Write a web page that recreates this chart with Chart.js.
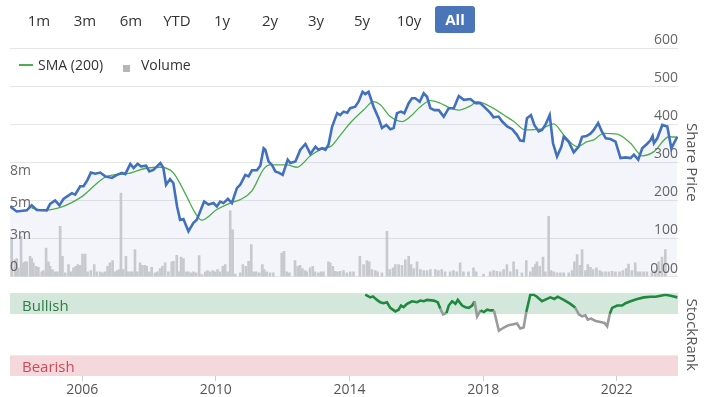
<!DOCTYPE html>
<html>
<head>
<meta charset="utf-8">
<script src="https://cdn.jsdelivr.net/npm/chart.js@4.4.0/dist/chart.umd.min.js"></script>
<style>
  body { margin: 0; width: 708px; height: 397px; overflow: hidden; background: #fff; position: relative; font-family: "Open Sans", sans-serif; }
  canvas { position: absolute; left: 0; }
  #priceChart { top: 0; }
  #rankChart { top: 285px; }
  .rng { position: absolute; top: 9px; width: 44px; margin-left: -22px; text-align: center; font-size: 15px; color: #333; line-height: 22px; z-index: 2; }
  .rng.on { top: 6px; height: 27px; line-height: 27px; width: 40px; margin-left: -20px; background: #4a75b8; color: #fff; font-weight: bold; border-radius: 3px; }
  .legend { position: absolute; top: 55px; left: 18px; font-size: 14px; color: #333; z-index: 2; line-height: 20px; }
  .legend .ln { position: absolute; left: 1px; top: 9px; width: 14px; height: 2px; background: #4cae4c; }
  .legend .sq { position: absolute; left: 105px; top: 10px; width: 7px; height: 7px; background: #b4b6bb; }
  .legend span.t { position: absolute; white-space: nowrap; }
  .band-label { position: absolute; left: 22px; font-size: 15px; z-index: 2; line-height: 20px; }
</style>
</head>
<body>
<div id="ranges"></div>
<div class="legend">
  <div class="ln"></div><span class="t" style="left:20px">SMA (200)</span>
  <div class="sq"></div><span class="t" style="left:123px">Volume</span>
</div>
<div class="band-label" style="top:295px;color:#2f7b49">Bullish</div>
<div class="band-label" style="top:356px;color:#d04a55">Bearish</div>
<canvas id="priceChart" width="708" height="285"></canvas>
<canvas id="rankChart" width="708" height="112"></canvas>
<script>
// ── DATA ─────────────────────────────
const rangeLabels = ["1m", "3m", "6m", "YTD", "1y", "2y", "3y", "5y", "10y", "All"];
const rangeCenters = [39, 85, 131, 177, 222, 270, 316, 362, 409, 455];

const xMin = 2003.84;
const xMax = 2023.83;
const yearTicks = [2006, 2010, 2014, 2018, 2022];
const priceTicks = [0, 100, 200, 300, 400, 500, 600];
const volumeTicks = [0, 2.5, 5, 7.5];   // millions
const rankTicks = [0, 100];
const bullishFrom = 75;
const bearishTo = 25;

const priceDates = [2003.84, 2004.04, 2004.34, 2004.49, 2004.64, 2004.94, 2005.04, 2005.19, 2005.32, 2005.44,
  2005.69, 2005.79, 2005.94, 2006.04, 2006.16, 2006.26, 2006.39, 2006.54, 2006.69, 2006.89,
  2007.04, 2007.19, 2007.29, 2007.44, 2007.54, 2007.66, 2007.76, 2007.91, 2008.01, 2008.13,
  2008.34, 2008.43, 2008.51, 2008.63, 2008.73, 2008.84, 2008.93, 2009.03, 2009.18, 2009.33,
  2009.43, 2009.65, 2009.78, 2009.93, 2010.03, 2010.13, 2010.23, 2010.36, 2010.48, 2010.63,
  2010.73, 2010.88, 2010.98, 2011.08, 2011.23, 2011.33, 2011.43, 2011.48, 2011.58, 2011.68,
  2011.78, 2011.88, 2012.00, 2012.15, 2012.23, 2012.38, 2012.53, 2012.68, 2012.83, 2012.98,
  2013.07, 2013.18, 2013.28, 2013.37, 2013.48, 2013.63, 2013.72, 2013.82, 2013.93, 2014.02,
  2014.17, 2014.27, 2014.39, 2014.47, 2014.57, 2014.72, 2014.87, 2014.97, 2015.10, 2015.22,
  2015.32, 2015.42, 2015.54, 2015.64, 2015.77, 2015.87, 2015.97, 2016.10, 2016.22, 2016.32,
  2016.42, 2016.54, 2016.67, 2016.82, 2016.97, 2017.12, 2017.27, 2017.42, 2017.62, 2017.77,
  2017.92, 2018.07, 2018.22, 2018.31, 2018.46, 2018.57, 2018.72, 2018.87, 2019.01, 2019.11,
  2019.21, 2019.31, 2019.43, 2019.53, 2019.66, 2019.76, 2019.86, 2019.99, 2020.09, 2020.21,
  2020.34, 2020.41, 2020.56, 2020.71, 2020.86, 2020.96, 2021.09, 2021.21, 2021.31, 2021.44,
  2021.55, 2021.67, 2021.81, 2021.96, 2022.11, 2022.26, 2022.41, 2022.51, 2022.64, 2022.76,
  2022.90, 2023.00, 2023.07, 2023.11, 2023.21, 2023.36, 2023.51, 2023.63, 2023.81];
const priceVals = [184, 171, 174, 187, 175, 174, 191, 200, 187, 204,
  219, 215, 237, 237, 254, 273, 270, 273, 263, 259,
  267, 272, 269, 296, 285, 296, 289, 291, 276, 280,
  298, 285, 241, 256, 245, 184, 149, 151, 119, 141,
  149, 197, 189, 193, 184, 197, 193, 204, 193, 232,
  241, 267, 263, 279, 279, 291, 337, 333, 302, 293,
  276, 273, 267, 307, 298, 302, 333, 348, 322, 341,
  333, 337, 333, 346, 394, 429, 424, 433, 430, 442,
  446, 459, 485, 479, 485, 446, 416, 390, 398, 387,
  390, 429, 433, 429, 455, 468, 468, 459, 481, 472,
  442, 437, 437, 420, 442, 442, 474, 464, 466, 455,
  455, 442, 429, 418, 420, 407, 394, 387, 372, 357,
  356, 416, 424, 398, 381, 385, 398, 424, 350, 315,
  341, 367, 354, 326, 341, 367, 369, 375, 385, 403,
  381, 363, 361, 354, 311, 313, 311, 320, 307, 337,
  348, 357, 369, 350, 363, 398, 394, 337, 367];

const smaDates = [2004.49, 2004.84, 2005.39, 2005.99, 2006.74, 2007.34, 2007.94, 2008.34, 2008.73, 2009.13,
  2009.38, 2009.58, 2010.03, 2010.43, 2010.73, 2011.08, 2011.43, 2011.63, 2011.83, 2012.13,
  2012.43, 2012.83, 2013.23, 2013.43, 2013.73, 2014.02, 2014.42, 2014.72, 2014.92, 2015.22,
  2015.57, 2015.82, 2016.12, 2016.42, 2016.72, 2017.02, 2017.27, 2017.62, 2017.82, 2018.22,
  2018.62, 2018.92, 2019.26, 2019.71, 2020.11, 2020.41, 2020.81, 2021.11, 2021.31, 2021.61,
  2022.01, 2022.41, 2022.76, 2023.11, 2023.56, 2023.81];
const smaVals = [180, 174, 183, 210, 263, 270, 285, 287, 272, 210,
  167, 148, 176, 193, 202, 225, 282, 293, 293, 293,
  287, 317, 337, 341, 372, 403, 437, 459, 451, 420,
  407, 420, 446, 462, 455, 442, 437, 448, 459, 446,
  424, 407, 385, 387, 401, 372, 341, 354, 359, 376,
  374, 350, 317, 328, 367, 366];

const volumeDates = [2003.89, 2003.99, 2004.04, 2004.09, 2004.17, 2004.24, 2004.29, 2004.34, 2004.44, 2004.49,
  2004.54, 2004.62, 2004.69, 2004.79, 2004.84, 2004.92, 2004.99, 2005.04, 2005.11, 2005.19,
  2005.26, 2005.34, 2005.41, 2005.49, 2005.59, 2005.66, 2005.74, 2005.81, 2005.87, 2005.94,
  2006.01, 2006.09, 2006.16, 2006.26, 2006.36, 2006.44, 2006.54, 2006.61, 2006.68, 2006.76,
  2006.83, 2006.91, 2006.98, 2007.05, 2007.11, 2007.16, 2007.23, 2007.31, 2007.38, 2007.45,
  2007.50, 2007.58, 2007.65, 2007.73, 2007.80, 2007.88, 2007.93, 2008.01, 2008.08, 2008.18,
  2008.25, 2008.33, 2008.40, 2008.48, 2008.58, 2008.68, 2008.73, 2008.83, 2008.90, 2008.96,
  2009.03, 2009.11, 2009.18, 2009.26, 2009.33, 2009.41, 2009.50, 2009.58, 2009.68, 2009.75,
  2009.83, 2009.91, 2009.98, 2010.05, 2010.13, 2010.21, 2010.28, 2010.35, 2010.43, 2010.50,
  2010.58, 2010.73, 2010.81, 2010.90, 2010.98, 2011.06, 2011.13, 2011.21, 2011.30, 2011.39,
  2011.45, 2011.52, 2011.62, 2011.72, 2011.97, 2012.04, 2012.12, 2012.20, 2012.37, 2012.45,
  2012.52, 2012.59, 2012.67, 2012.72, 2012.82, 2012.90, 2012.97, 2013.07, 2013.15, 2013.22,
  2013.37, 2013.42, 2013.50, 2013.57, 2013.64, 2013.72, 2013.82, 2013.92, 2014.02, 2014.12,
  2014.31, 2014.42, 2014.52, 2014.59, 2014.67, 2014.77, 2014.84, 2014.97, 2015.12, 2015.20,
  2015.30, 2015.37, 2015.47, 2015.57, 2015.67, 2015.77, 2015.84, 2015.92, 2016.02, 2016.12,
  2016.22, 2016.32, 2016.42, 2016.57, 2016.66, 2016.76, 2016.86, 2017.01, 2017.11, 2017.21,
  2017.31, 2017.41, 2017.56, 2017.71, 2017.79, 2018.01, 2018.21, 2018.31, 2018.41, 2018.51,
  2018.61, 2018.71, 2018.81, 2018.91, 2019.01, 2019.16, 2019.29, 2019.41, 2019.49, 2019.56,
  2019.61, 2019.69, 2019.79, 2019.86, 2019.96, 2020.03, 2020.11, 2020.21, 2020.31, 2020.41,
  2020.56, 2020.66, 2020.73, 2020.81, 2020.89, 2020.96, 2021.06, 2021.13, 2021.21, 2021.29,
  2021.39, 2021.49, 2021.56, 2021.66, 2021.76, 2021.86, 2021.96, 2022.08, 2022.18, 2022.28,
  2022.35, 2022.45, 2022.55, 2022.62, 2022.70, 2022.80, 2022.90, 2023.05, 2023.15, 2023.25,
  2023.35, 2023.45];
const volumeVals = [3.02, 1.32, 1.41, 0.68, 3.15, 1.07, 1.15, 1.15, 1.59, 1.41,
  1.07, 0.81, 0.73, 0.37, 0.47, 2.24, 1.15, 0.81, 0.55, 0.37,
  0.37, 3.94, 1.59, 0.29, 0.94, 0.37, 0.68, 0.81, 0.94, 0.88,
  1.77, 1.77, 0.37, 0.47, 0.94, 0.37, 0.37, 0.29, 0.37, 0.81,
  1.07, 1.25, 0.37, 0.47, 0.55, 6.54, 0.55, 1.59, 0.37, 0.37,
  0.37, 2.11, 0.37, 1.07, 0.88, 0.88, 0.81, 0.37, 0.73, 0.29,
  0.37, 0.62, 0.81, 1.07, 0.37, 1.15, 1.19, 1.67, 0.37, 1.52,
  1.41, 0.37, 0.37, 0.29, 0.37, 0.29, 1.65, 0.16, 0.37, 0.47,
  0.37, 0.47, 0.37, 0.55, 0.37, 0.81, 0.94, 0.37, 5.15, 3.67,
  0.20, 0.29, 0.94, 0.81, 1.19, 2.51, 0.37, 0.37, 0.29, 0.94,
  0.55, 0.37, 0.29, 0.29, 1.85, 1.98, 0.37, 0.29, 1.25, 0.81,
  0.88, 0.62, 0.47, 0.37, 0.68, 0.81, 0.37, 0.29, 0.37, 0.37,
  1.15, 1.07, 0.81, 0.42, 0.37, 0.42, 0.47, 0.29, 0.37, 0.37,
  1.59, 0.94, 1.25, 1.15, 0.55, 0.47, 0.37, 0.29, 3.54, 0.55,
  0.68, 0.94, 0.94, 0.88, 1.32, 1.59, 0.94, 0.62, 1.15, 0.55,
  0.47, 0.47, 0.55, 0.55, 0.47, 0.55, 0.37, 0.37, 0.47, 0.37,
  1.07, 0.37, 0.37, 0.68, 0.37, 0.20, 0.37, 0.47, 0.42, 0.37,
  0.55, 0.94, 0.37, 1.15, 0.55, 0.29, 1.25, 0.37, 0.73, 0.94,
  1.15, 0.81, 1.52, 0.37, 4.71, 0.47, 0.37, 0.29, 0.29, 0.29,
  0.29, 0.47, 1.15, 1.72, 0.88, 2.11, 0.47, 0.94, 0.73, 0.55,
  0.68, 0.47, 0.37, 0.37, 0.37, 0.42, 0.37, 0.37, 0.47, 0.62,
  0.99, 0.47, 1.07, 0.37, 0.37, 0.37, 0.37, 0.29, 0.47, 1.15,
  1.52, 2.11];

const rankDates = [2014.47, 2014.62, 2014.70, 2014.82, 2014.92, 2015.02, 2015.12, 2015.22, 2015.37, 2015.47,
  2015.54, 2015.62, 2015.72, 2015.87, 2016.02, 2016.12, 2016.22, 2016.32, 2016.52, 2016.64,
  2016.72, 2016.80, 2016.90, 2016.97, 2017.07, 2017.17, 2017.24, 2017.37, 2017.47, 2017.57,
  2017.67, 2017.74, 2017.82, 2017.92, 2018.02, 2018.12, 2018.22, 2018.32, 2018.37, 2018.47,
  2018.62, 2018.76, 2018.91, 2019.01, 2019.11, 2019.21, 2019.29, 2019.41, 2019.51, 2019.61,
  2019.76, 2019.91, 2020.01, 2020.13, 2020.23, 2020.41, 2020.61, 2020.76, 2020.86, 2020.96,
  2021.06, 2021.13, 2021.23, 2021.36, 2021.51, 2021.63, 2021.71, 2021.79, 2021.86, 2022.01,
  2022.16, 2022.26, 2022.41, 2022.61, 2022.81, 2023.01, 2023.16, 2023.31, 2023.46, 2023.61,
  2023.81];
const rankVals = [98.4, 95.2, 96.4, 92.1, 89.3, 88.1, 89.3, 82.5, 78.2, 80.2,
  85.3, 83.3, 87.3, 90.5, 89.3, 91.3, 90.5, 92.1, 91.3, 89.3,
  81.3, 74.6, 76.2, 85.3, 90.5, 87.3, 92.1, 85.3, 83.3, 82.5,
  85.3, 90.5, 72.2, 79.4, 77.4, 80.2, 79.4, 79.4, 71.4, 54.8,
  58.7, 61.5, 62.7, 63.5, 57.5, 58.7, 77.4, 98.4, 98.4, 96.0,
  90.5, 93.3, 95.2, 93.3, 96.0, 92.1, 87.3, 82.5, 74.6, 72.2,
  73.4, 68.3, 69.5, 66.7, 65.5, 64.3, 60.3, 75.4, 82.5, 85.3,
  85.3, 88.1, 90.5, 93.3, 95.2, 96.0, 96.0, 97.2, 98.4, 97.2,
  95.2];

// ── HELPERS ─────────────────────────────
function toPoints(xs, ys) {
  return xs.map((x, i) => ({ x: x, y: ys[i] }));
}

Chart.defaults.font.family = '"Open Sans", sans-serif';
Chart.defaults.color = "#666";

// range selector
const rangesEl = document.getElementById("ranges");
rangeLabels.forEach((label, i) => {
  const el = document.createElement("div");
  el.className = "rng" + (label === "All" ? " on" : "");
  el.style.left = rangeCenters[i] + "px";
  el.textContent = label;
  rangesEl.appendChild(el);
});

// ── PRICE + VOLUME ─────────────────────────────
new Chart(document.getElementById("priceChart").getContext("2d"), {
  type: "line",
  data: {
    datasets: [
      {
        label: "Price",
        data: toPoints(priceDates, priceVals),
        yAxisID: "price",
        borderColor: "#4170bd",
        borderWidth: 2.6,
        backgroundColor: "rgba(70,110,200,0.065)",   // see-through so the grid stays visible
        fill: "origin",
        pointRadius: 0,
        tension: 0,
        order: 0
      },
      {
        label: "SMA (200)",
        data: toPoints(smaDates, smaVals),
        yAxisID: "price",
        borderColor: "#4cae4c",
        borderWidth: 1.3,
        fill: false,
        pointRadius: 0,
        cubicInterpolationMode: "monotone",
        order: 1
      },
      {
        type: "bar",
        label: "Volume",
        data: toPoints(volumeDates, volumeVals),
        yAxisID: "vol",
        backgroundColor: "#c8c9ce",
        barThickness: 2,
        order: 2
      }
    ]
  },
  options: {
    responsive: false,
    animation: false,
    devicePixelRatio: 1,
    layout: { padding: { top: 48, bottom: 8, left: 0, right: 0 } },
    plugins: {
      legend: { display: false },
      tooltip: { enabled: false },
      filler: { drawTime: "beforeDatasetsDraw" }
    },
    scales: {
      x: { type: "linear", min: xMin, max: xMax, offset: false, grid: { offset: false }, display: false },
      vol: {
        position: "left",
        min: 0,
        max: 17.9,
        afterFit: s => { s.width = 10; },
        afterBuildTicks: s => { s.ticks = volumeTicks.map(v => ({ value: v })); },
        grid: { display: false },
        border: { display: false },
        ticks: {
          z: 1,
          mirror: true,
          padding: 0,
          labelOffset: -10,
          font: { size: 14 },
          color: "#666",
          callback: v => v === 0 ? "0" : Math.round(v) + "m"
        }
      },
      price: {
        position: "right",
        min: 0,
        max: 600,
        afterFit: s => { s.width = 30; },
        afterBuildTicks: s => { s.ticks = priceTicks.map(v => ({ value: v })); },
        grid: { color: "#e6e6e6", drawTicks: false },
        border: { display: false },
        title: { display: true, text: "Share Price", font: { size: 15 }, color: "#555", padding: { top: 8, bottom: 0 } },
        ticks: {
          z: 1,
          mirror: true,
          padding: 0,
          labelOffset: -8,
          font: { size: 14 },
          color: "#666",
          callback: v => v === 0 ? "0.00" : String(v)
        }
      }
    }
  }
});

// ── STOCKRANK PANEL ─────────────────────────────
const bandPlugin = {
  id: "bands",
  beforeDatasetsDraw(chart) {
    const { ctx, chartArea, scales } = chart;
    const r = scales.rank;
    ctx.save();
    ctx.fillStyle = "#d3e8da";
    ctx.fillRect(chartArea.left, r.getPixelForValue(100), chartArea.right - chartArea.left,
      r.getPixelForValue(bullishFrom) - r.getPixelForValue(100));
    ctx.fillStyle = "#f4d8db";
    ctx.fillRect(chartArea.left, r.getPixelForValue(bearishTo), chartArea.right - chartArea.left,
      r.getPixelForValue(0) - r.getPixelForValue(bearishTo));
    ctx.restore();
  }
};

new Chart(document.getElementById("rankChart").getContext("2d"), {
  type: "line",
  data: {
    datasets: [{
      label: "StockRank",
      data: toPoints(rankDates, rankVals),
      yAxisID: "rank",
      borderWidth: 2.6,
      pointRadius: 0,
      tension: 0,
      borderColor: "#1f8a3f",
      segment: {
        borderColor: c => (c.p0.parsed.y >= bullishFrom && c.p1.parsed.y >= bullishFrom) ? "#1f8a3f" : "#9a9a9a"
      }
    }]
  },
  options: {
    responsive: false,
    animation: false,
    devicePixelRatio: 1,
    layout: { padding: { top: 7, left: 10, right: 0, bottom: 0 } },
    plugins: { legend: { display: false }, tooltip: { enabled: false } },
    scales: {
      x: {
        type: "linear",
        min: xMin,
        max: xMax,
        afterFit: s => { s.height = 21; },
        afterBuildTicks: s => { s.ticks = yearTicks.map(v => ({ value: v })); },
        grid: { drawOnChartArea: false, drawTicks: true, tickLength: 5, color: "#cccccc" },
        border: { display: false },
        ticks: { padding: 1, maxRotation: 0, autoSkip: false, font: { size: 14 }, color: "#555", callback: v => String(v) }
      },
      rank: {
        position: "right",
        min: 0,
        max: 100,
        afterFit: s => { s.width = 30; },
        afterBuildTicks: s => { s.ticks = rankTicks.map(v => ({ value: v })); },
        grid: { drawTicks: false, color: c => c.tick.value === 100 ? "#e2e2e2" : "rgba(0,0,0,0)" },
        border: { display: false },
        title: { display: true, text: "StockRank", font: { size: 15 }, color: "#555", padding: { top: 8, bottom: 0 } },
        ticks: {
          mirror: true,
          padding: 0,
          labelOffset: -10,
          font: { size: 14 },
          color: "#666",
          callback: v => v === 0 ? "0" : ""
        }
      }
    }
  },
  plugins: [bandPlugin]
});
</script>
</body>
</html>
